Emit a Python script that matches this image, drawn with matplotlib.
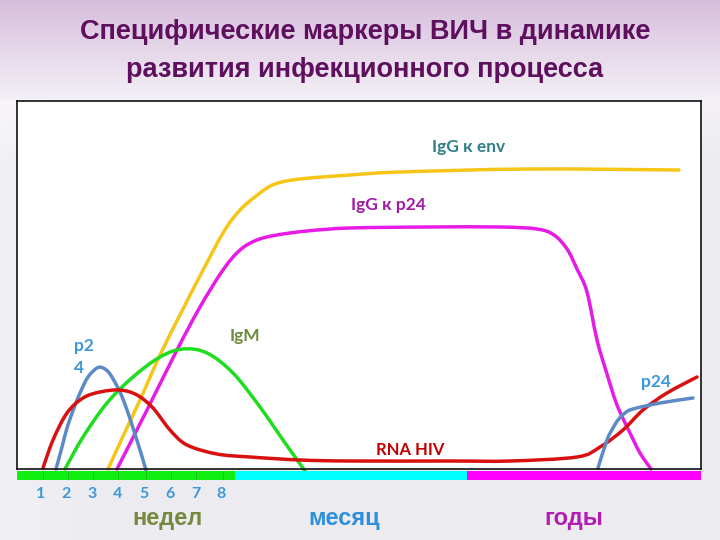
import numpy as np
import matplotlib
matplotlib.use("Agg")
import matplotlib.pyplot as plt
from matplotlib.path import Path
from matplotlib.patches import PathPatch

# ---------------- data (timeline position, relative level) ----------------
title_text = "Специфические маркеры ВИЧ в динамике\nразвития инфекционного процесса"

igg_env_x = [91, 108, 123, 143, 166, 183, 206, 223, 243, 258, 283, 333, 383, 513, 662]
igg_env_y = [0, 37, 69, 114, 160, 193, 236, 259, 276, 285, 290, 294, 297, 300, 299]

igg_p24_x = [100, 130, 160, 183, 206, 223, 240, 260, 290, 333, 413, 483, 520, 537, 550,
             560, 570, 580, 590, 600, 613, 623, 634]
igg_p24_y = [0, 59, 119, 162, 199, 219, 229, 234, 238, 241, 242, 242, 240, 234, 220,
             200, 177, 129, 95, 64, 36, 16, 0]

igm_x = [48, 66, 90, 116, 143, 166, 190, 216, 243, 266, 288]
igm_y = [0, 32, 66, 92, 112, 120, 116, 96, 62, 29, -2]

p24_early_x = [39, 45, 50, 57, 63, 71, 80, 86, 93, 103, 110, 116, 123, 129]
p24_early_y = [0, 22, 41, 61, 76, 92, 101, 101, 95, 77, 59, 41, 19, -1]

rna_x = [26, 36, 50, 66, 83, 103, 120, 136, 153, 170, 200, 233, 283, 333, 433, 493,
         560, 583, 606, 626, 650, 680]
rna_y = [1, 29, 56, 71, 77, 79, 74, 61, 39, 24, 15, 12, 9, 8, 8, 8,
         12, 22, 39, 59, 76, 92]

p24_late_x = [581, 590, 596, 601, 608, 616, 643, 676]
p24_late_y = [1, 29, 41, 49, 56, 60, 66, 71]

week_labels = ["1", "2", "3", "4", "5", "6", "7", "8"]
week_pos = [24, 49, 75, 101, 127, 153, 179, 204]
week_sep = [26, 51, 76, 101, 129, 154, 179, 206]

period_names = ["недел", "месяц", "годы"]
period_pos = [151, 327, 557]
period_colors = ["#76873E", "#2F8FDA", "#B01EB0"]
period_bounds = [-1, 218, 450, 684]
period_bar_colors = ["#11EE11", "#00FFFF", "#FF00FF"]


def smooth_path(xs, ys):
    """Catmull-Rom through the given points, expressed as cubic Bezier segments."""
    p = np.column_stack([xs, ys]).astype(float)
    n = len(p)
    verts = [p[0]]
    codes = [Path.MOVETO]
    for i in range(n - 1):
        p0 = p[i - 1] if i > 0 else p[i]
        p1 = p[i]
        p2 = p[i + 1]
        p3 = p[i + 2] if i + 2 < n else p[i + 1]
        c1 = p1 + (p2 - p0) / 6.0
        c2 = p2 - (p3 - p1) / 6.0
        verts += [c1, c2, p2]
        codes += [Path.CURVE4] * 3
    return Path(verts, codes)


# ---------------- figure ----------------
W, H = 720, 540
fig = plt.figure(figsize=(7.2, 5.4), dpi=100)

bg = fig.add_axes([0, 0, 1, 1])
bg.set_axis_off()
top = np.array([215, 190, 221]) / 255
mid = np.array([244, 241, 246]) / 255
low = np.array([236, 236, 240]) / 255
img = np.zeros((H, W, 3))
for r in range(H):
    if r < 100:
        t = r / 100
        c = top * (1 - t) + mid * t
    else:
        t = min((r - 100) / 60, 1)
        c = mid * (1 - t) + low * t
    img[r, :, :] = c
xs_ = np.linspace(0, 1, W)
light = np.clip(1 - xs_ / 0.15, 0, 1)[None, :, None] * 0.02
img[100:, :, :] = np.clip(img[100:, :, :] + light, 0, 1)
bg.imshow(img, extent=[0, 1, 0, 1], aspect="auto")
bg.set_xlim(0, 1)
bg.set_ylim(0, 1)

fig.text(0.507, 1 - 51 / 540, title_text, ha="center", va="center",
         fontsize=19.5, fontweight="bold", color="#5E0F5E", linespacing=1.6,
         family=["Liberation Sans Narrow", "Liberation Sans", "DejaVu Sans"])

ax = fig.add_axes([17 / W, 1 - 469 / H, 684 / W, 368 / H])
ax.set_facecolor("white")
ax.set_xlim(0, 684)
ax.set_ylim(0, 368)
ax.set_xticks([])
ax.set_yticks([])
for s in ax.spines.values():
    s.set_color("#111111")
    s.set_linewidth(1.2)

series = [
    (igg_env_x, igg_env_y, "#F5C518"),
    (igg_p24_x, igg_p24_y, "#E61CE6"),
    (igm_x, igm_y, "#1EDD1E"),
    (p24_early_x, p24_early_y, "#5B8AC6"),
    (rna_x, rna_y, "#D81010"),
    (p24_late_x, p24_late_y, "#5B8AC6"),
]
for xs, ys, col in series:
    patch = PathPatch(smooth_path(xs, ys), facecolor="none", edgecolor=col,
                      lw=2.5, capstyle="round", joinstyle="round", clip_on=False)
    ax.add_patch(patch)

lab_font = ["Lato", "Open Sans", "DejaVu Sans"]
ax.text(452, 322, "IgG к env", color="#2F8088", fontsize=12.5, fontweight="bold",
        ha="center", va="center", family=lab_font)
ax.text(371, 264, "IgG к p24", color="#A01CA8", fontsize=12.5, fontweight="bold",
        ha="center", va="center", family=lab_font)
ax.text(228, 133, "IgM", color="#6E8A3C", fontsize=12.5, fontweight="bold",
        ha="center", va="center", family=lab_font)
ax.text(57, 112, "p2\n4", color="#3B97D9", fontsize=12.5, fontweight="bold",
        ha="left", va="center", linespacing=1.5, family=lab_font)
ax.text(639, 87, "p24", color="#3B97D9", fontsize=12.5, fontweight="bold",
        ha="center", va="center", family=lab_font)
ax.text(393, 19, "RNA HIV", color="#C00000", fontsize=12, fontweight="bold",
        ha="center", va="center", family=lab_font)

bar = fig.add_axes([17 / W, 1 - 480 / H, 684 / W, 9 / H])
bar.set_xlim(0, 684)
bar.set_ylim(0, 1)
bar.set_axis_off()
for i in range(3):
    bar.barh(0.5, period_bounds[i + 1] - period_bounds[i], left=period_bounds[i],
             height=1, color=period_bar_colors[i], edgecolor="none")
for xv in week_sep:
    bar.plot([xv, xv], [0, 1], color="#22BB22", lw=0.6)

lab = fig.add_axes([17 / W, 0, 684 / W, 60 / H])
lab.set_xlim(0, 684)
lab.set_ylim(540, 480)
lab.set_axis_off()
for lbl, xv in zip(week_labels, week_pos):
    lab.text(xv, 494, lbl, color="#3B97D9", fontsize=11.5, fontweight="bold",
             ha="center", va="center", family=lab_font)
for name, xv, col in zip(period_names, period_pos, period_colors):
    lab.text(xv, 518, name, color=col, fontsize=17, fontweight="bold",
             ha="center", va="center", family=["Liberation Sans", "DejaVu Sans"])

fig.savefig("out.png", dpi=100)
